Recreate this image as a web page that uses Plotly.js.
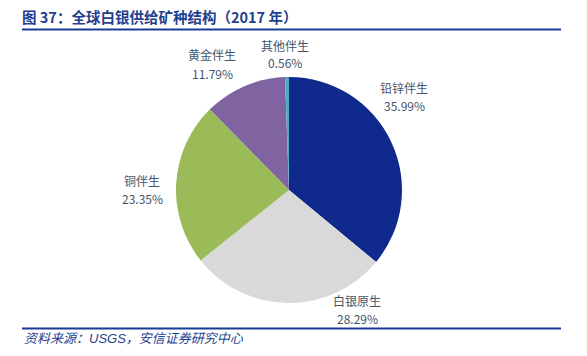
<!DOCTYPE html>
<html>
<head>
<meta charset="utf-8">
<script src="https://cdn.plot.ly/plotly-3.0.1.min.js"></script>
<style>html,body{margin:0;padding:0;background:#fff;}#chart{width:587px;height:356px;}</style>
</head>
<body>
<div id="chart"></div>
<script>
// Data
var categories = ['铅锌伴生', '白银原生', '铜伴生', '黄金伴生', '其他伴生'];
var shares = [35.99, 28.29, 23.35, 11.79, 0.56];
var sliceColors = ['#0F2A8C', '#D9D9D9', '#9BBB59', '#8064A2', '#4BACC6'];
var titleText = '图 37：全球白银供给矿种结构（2017 年）';
var sourceText = '资料来源：USGS，安信证券研究中心';

// Label anchor positions in pixels (layout only)
var labelPx = [[404, 96], [357, 309], [142, 189], [212, 64], [285, 54]];

var W = 587, H = 356;
function px(x) { return x / W; }
function py(y) { return 1 - y / H; }

var labelFont = {family: '"Noto Sans CJK SC", "Liberation Sans", sans-serif', size: 12, color: '#44546A'};
var annotations = [];
categories.forEach(function (c, i) {
  annotations.push({
    text: c,
    x: px(labelPx[i][0]), y: py(labelPx[i][1] - 9),
    xref: 'paper', yref: 'paper', xanchor: 'center', yanchor: 'middle',
    showarrow: false, font: labelFont, borderpad: 0
  });
  annotations.push({
    text: shares[i].toFixed(2) + '%',
    x: px(labelPx[i][0]), y: py(labelPx[i][1] + 9),
    xref: 'paper', yref: 'paper', xanchor: 'center', yanchor: 'middle',
    showarrow: false, font: labelFont, borderpad: 0
  });
});
annotations.push({
  text: '<i>' + sourceText + '</i>',
  x: px(22), y: py(338), xref: 'paper', yref: 'paper', xanchor: 'left', yanchor: 'middle',
  showarrow: false,
  font: {family: '"Liberation Sans", "Noto Sans CJK SC", sans-serif', size: 13, color: '#1F3F8F'}
});

var trace = {
  type: 'pie',
  labels: categories,
  values: shares,
  sort: false,
  direction: 'clockwise',
  rotation: 0,
  marker: {colors: sliceColors, line: {color: '#ffffff', width: 0}},
  textinfo: 'none',
  hoverinfo: 'label+percent',
  showlegend: false,
  domain: {x: [px(176), px(402)], y: [py(303), py(77)]}
};

var layout = {
  width: W, height: H,
  margin: {l: 0, r: 0, t: 0, b: 0},
  paper_bgcolor: '#ffffff',
  showlegend: false,
  title: {
    text: '<b>' + titleText + '</b>',
    x: px(22), xanchor: 'left', xref: 'paper',
    y: py(18), yanchor: 'middle', yref: 'paper',
    font: {family: '"Noto Sans CJK SC", "Liberation Sans", sans-serif', size: 14.5, color: '#1F3F8F'}
  },
  annotations: annotations,
  shapes: [
    {type: 'line', xref: 'paper', yref: 'paper', x0: px(22), x1: px(561), y0: py(29.5), y1: py(29.5),
     line: {color: '#1B3C94', width: 2}},
    {type: 'line', xref: 'paper', yref: 'paper', x0: px(22), x1: px(561), y0: py(328.5), y1: py(328.5),
     line: {color: '#1B3C94', width: 2}}
  ]
};

Plotly.newPlot('chart', [trace], layout, {displayModeBar: false, staticPlot: true});
</script>
</body>
</html>
